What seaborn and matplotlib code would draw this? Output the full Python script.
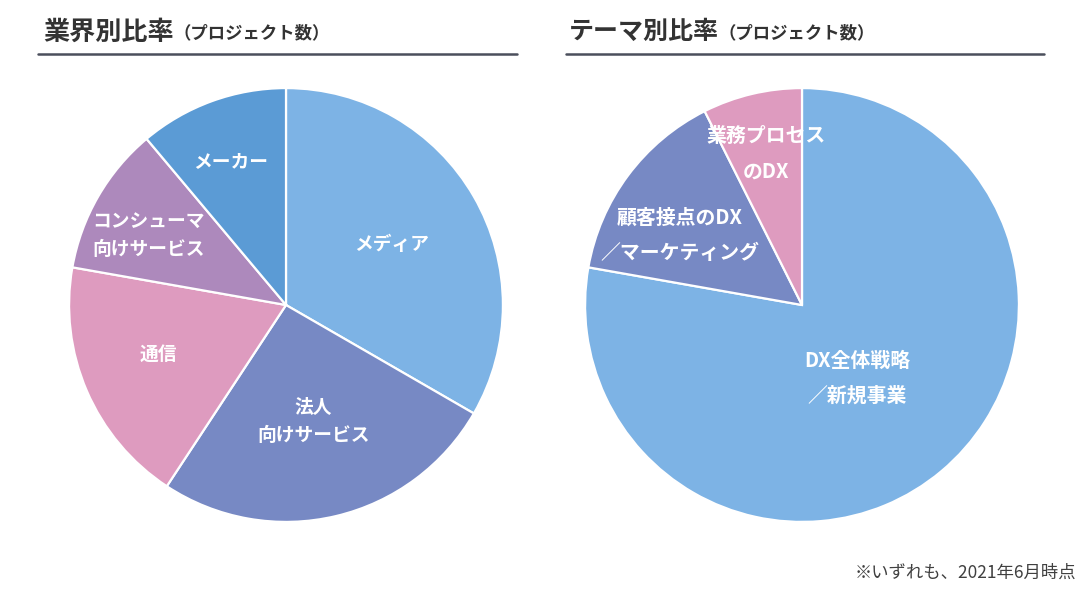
import matplotlib
matplotlib.use("Agg")
import matplotlib.pyplot as plt
import seaborn as sns
import numpy as np

# ---- data ----
industry_labels = ["メディア", "法人\n向けサービス", "通信", "コンシューマ\n向けサービス", "メーカー"]
industry_counts = [9, 7, 5, 3, 3]
theme_labels = ["DX全体戦略\n／新規事業", "顧客接点のDX\n／マーケティング", "業務プロセス\nのDX"]
theme_counts = [21, 4, 2]

industry_title = "業界別比率"
theme_title = "テーマ別比率"
sub_title = "（プロジェクト数）"
footnote = "※いずれも、2021年6月時点"

# ---- style ----
industry_colors = ["#7DB3E5", "#7789C4", "#DE9BBF", "#AD89BC", "#5B9BD5"]
theme_colors = ["#7DB3E5", "#7789C4", "#DE9BBF"]
industry_dists = [0.56, 0.55, 0.63, 0.71, 0.71]
industry_angoff = [0, 0, -2, 3, 1]
theme_dists = [0.42, 0.65, 0.72]
theme_angoff = [-3, 7, 0]

sns.set_theme(style="white")
plt.rcParams['font.family'] = ['Noto Sans CJK JP', 'DejaVu Sans']

W, H = 1092, 594
fig = plt.figure(figsize=(W / 100, H / 100), dpi=100)
fig.patch.set_facecolor("white")


def px_axes(cx, cy, r):
    return fig.add_axes([(cx - r) / W, (H - cy - r) / H, 2 * r / W, 2 * r / H])


def draw_pie(ax, counts, labels, colors, dists, angoff, fs, ls):
    wedges, _ = ax.pie(counts, colors=colors, startangle=90, counterclock=False,
                       radius=1, wedgeprops=dict(edgecolor="white", linewidth=1.6))
    for w, lab, d, off in zip(wedges, labels, dists, angoff):
        ang = np.deg2rad((w.theta1 + w.theta2) / 2 + off)
        ax.text(d * np.cos(ang), d * np.sin(ang), lab, ha="center", va="center",
                color="white", fontsize=fs, fontweight="bold", linespacing=ls,
                multialignment="center")
    ax.set_xlim(-1.005, 1.005)
    ax.set_ylim(-1.005, 1.005)
    ax.set_aspect("equal")
    ax.axis("off")


ax1 = px_axes(286, 305, 218)
draw_pie(ax1, industry_counts, industry_labels, industry_colors,
         industry_dists, industry_angoff, 13.5, 1.6)

ax2 = px_axes(802, 305, 218)
draw_pie(ax2, theme_counts, theme_labels, theme_colors,
         theme_dists, theme_angoff, 14.3, 1.85)

# titles
title_color = "#333333"
renderer = fig.canvas.get_renderer()


def title_pair(x_px, main, fs_main):
    t = fig.text(x_px / W, 1 - 32 / H, main, fontsize=fs_main, fontweight="bold",
                 color=title_color, va="center", ha="left")
    bb = t.get_window_extent(renderer=renderer)
    fig.text(bb.x1 / W, 1 - 33 / H, sub_title, fontsize=12.5, fontweight="bold",
             color=title_color, va="center", ha="left")


title_pair(43, industry_title, 18.8)
title_pair(569, theme_title, 18.0)

# underlines
line_color = "#4B4F5C"
fig.add_artist(plt.Line2D([38 / W, 517 / W], [1 - 54 / H, 1 - 54 / H],
                          color=line_color, linewidth=1.8, transform=fig.transFigure))
fig.add_artist(plt.Line2D([566 / W, 1044 / W], [1 - 54 / H, 1 - 54 / H],
                          color=line_color, linewidth=1.8, transform=fig.transFigure))

# footnote
fig.text(1076 / W, 1 - 573 / H, footnote, fontsize=12.5, color="#404040",
         ha="right", va="center")

fig.savefig("out.png", dpi=100, facecolor="white")
